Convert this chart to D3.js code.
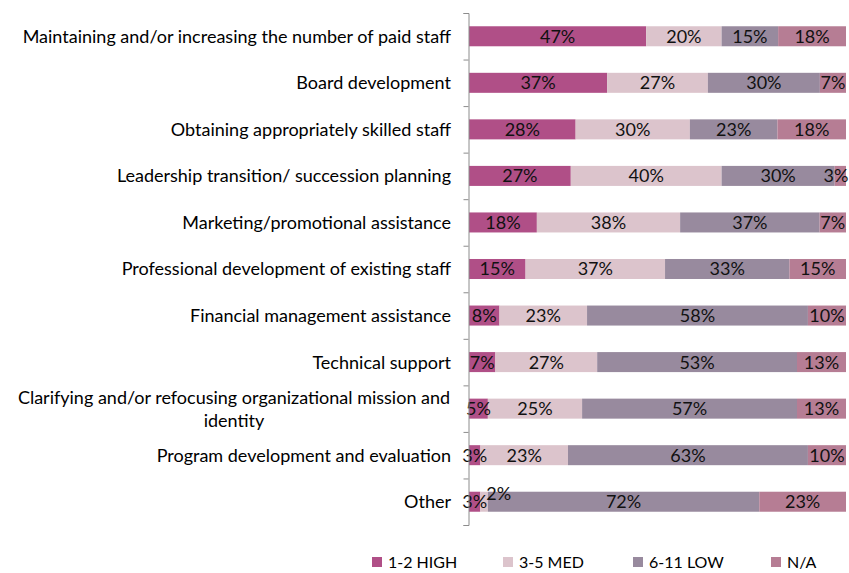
<!DOCTYPE html>
<html>
<head>
<meta charset="utf-8">
<script src="https://cdn.jsdelivr.net/npm/d3@7"></script>
<style>
  body { margin: 0; background: #fff; }
  text { font-family: Lato, "Open Sans", sans-serif; }
</style>
</head>
<body>
<svg id="chart" width="849" height="573"></svg>
<script>
// categories, top to bottom
const categories = [
  "Maintaining and/or increasing the number of paid staff",
  "Board development",
  "Obtaining appropriately skilled staff",
  "Leadership transition/ succession planning",
  "Marketing/promotional assistance",
  "Professional development of existing staff",
  "Financial management assistance",
  "Technical support",
  "Clarifying and/or refocusing organizational mission and identity",
  "Program development and evaluation",
  "Other"
];

// series (percent of respondents)
const seriesNames = ["1-2 HIGH", "3-5 MED", "6-11 LOW", "N/A"];
const high = [47, 37, 28, 27, 18, 15, 8, 7, 5, 3, 3];
const med  = [20, 27, 30, 40, 38, 37, 23, 27, 25, 23, 2];
const low  = [15, 30, 23, 30, 37, 33, 58, 53, 57, 63, 72];
const na   = [18, 7, 18, 3, 7, 15, 10, 13, 13, 10, 23];

const colors = ["#b04f87", "#dcc4cc", "#988a9e", "#b67d94"];

// build rows for d3.stack
const rows = categories.map((c, i) => ({
  cat: c,
  "1-2 HIGH": high[i],
  "3-5 MED": med[i],
  "6-11 LOW": low[i],
  "N/A": na[i]
}));

const svg = d3.select("#chart");

const x = d3.scaleLinear().domain([0, 1]).range([469, 846]);
const y = d3.scaleBand().domain(categories).range([13, 525])
  .paddingInner(0.57).paddingOuter(0.285);

const stack = d3.stack().keys(seriesNames).offset(d3.stackOffsetExpand);
const layers = stack(rows);

// bars
svg.append("g")
  .selectAll("g")
  .data(layers)
  .enter()
  .append("g")
  .attr("fill", (d, i) => colors[i])
  .selectAll("rect")
  .data(d => d)
  .enter()
  .append("rect")
  .attr("x", d => x(d[0]))
  .attr("y", d => y(d.data.cat))
  .attr("width", d => x(d[1]) - x(d[0]))
  .attr("height", y.bandwidth());

// data labels, nudged when tiny segments collide
const labels = svg.append("g").attr("font-size", 18).attr("fill", "#111")
  .attr("text-anchor", "middle");
rows.forEach((r, i) => {
  let prevX = -100;
  layers.forEach(layer => {
    const d = layer[i];
    let cx = (x(d[0]) + x(d[1])) / 2;
    let dy = 0;
    if (cx - prevX < 20) { cx = prevX + 24; dy = -8; }
    cx = Math.min(cx, 836); // keep the text inside the page
    prevX = cx;
    labels.append("text")
      .attr("x", cx)
      .attr("y", y(r.cat) + y.bandwidth() / 2 + dy)
      .attr("dy", "0.36em")
      .text(r[layer.key] + "%");
  });
});

// axis with ticks between categories
const yIdx = d3.scaleLinear().domain([0, categories.length]).range([13, 525]);
const axis = svg.append("g")
  .attr("transform", "translate(468.5,0)")
  .call(d3.axisLeft(yIdx).ticks(categories.length).tickSize(5).tickSizeOuter(5).tickFormat(""));
axis.selectAll("path, line").attr("stroke", "#8c8c8c");

// category labels
const catG = svg.append("g").attr("font-size", 18).attr("fill", "#000");
categories.forEach(c => {
  const cy = y(c) + y.bandwidth() / 2;
  if (c.length > 60) {
    const t = catG.append("text").attr("text-anchor", "middle").attr("x", 234);
    t.append("tspan").attr("x", 234).attr("y", cy - 11).attr("dy", "0.36em")
      .text("Clarifying and/or refocusing organizational mission and");
    t.append("tspan").attr("x", 234).attr("y", cy + 12).attr("dy", "0.36em")
      .text("identity");
  } else {
    catG.append("text")
      .attr("text-anchor", "end")
      .attr("x", 451)
      .attr("y", cy)
      .attr("dy", "0.36em")
      .text(c);
  }
});

// legend
const legendX = [372, 503, 633, 771];
const legend = svg.append("g").attr("font-size", 16);
seriesNames.forEach((s, i) => {
  legend.append("rect")
    .attr("x", legendX[i]).attr("y", 557)
    .attr("width", 10).attr("height", 10)
    .attr("fill", colors[i]);
  legend.append("text")
    .attr("x", legendX[i] + 16).attr("y", 562)
    .attr("dy", "0.36em")
    .text(s);
});
</script>
</body>
</html>
